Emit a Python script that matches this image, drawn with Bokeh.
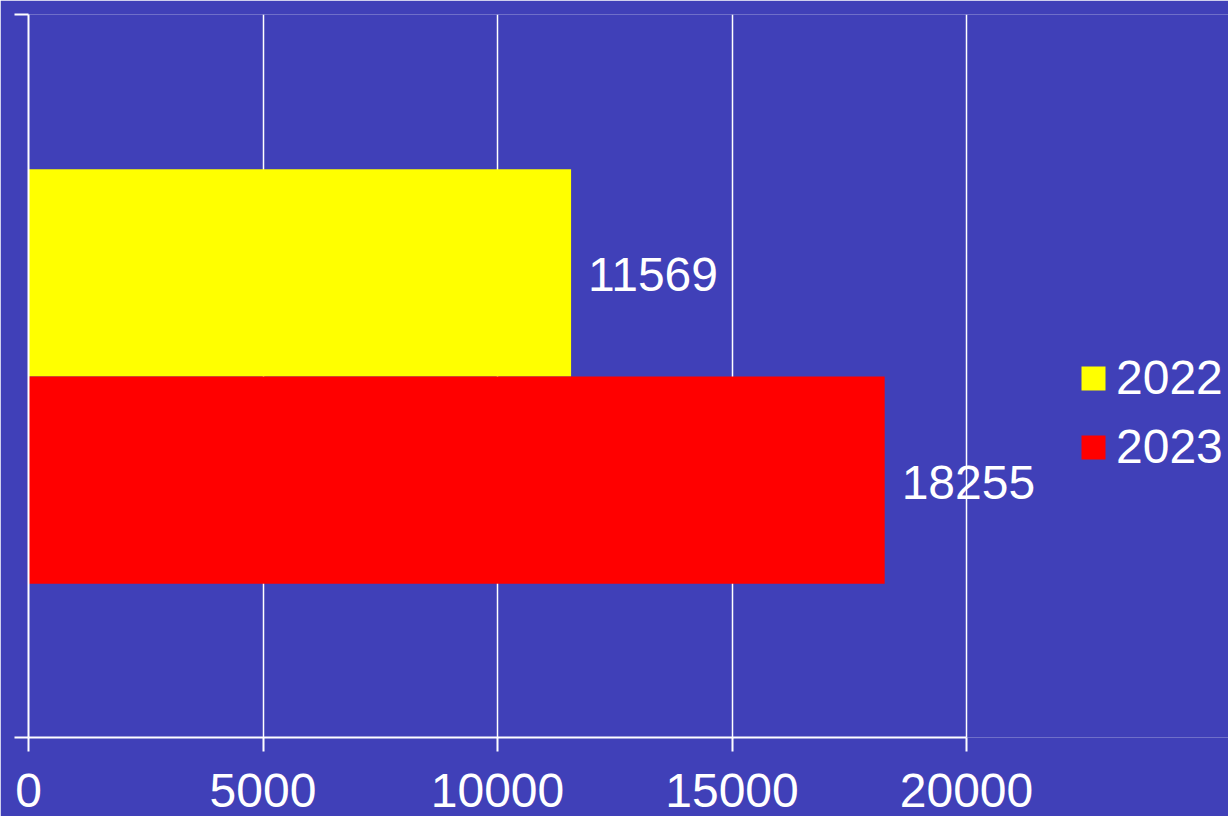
from bokeh.plotting import figure
from bokeh.models import Range1d, FixedTicker, ColumnDataSource, Legend, LegendItem, LabelSet
from bokeh.core.properties import value
from bokeh.embed import file_html
from bokeh.resources import INLINE

# data
series = ["2022", "2023"]
values = [11569, 18255]
colors = ["#FFFF00", "#FF0000"]
x_ticks = [0, 5000, 10000, 15000, 20000]

FONT = "Liberation Sans"
BG = "#4040b8"

# layout: frame 28..1228 px wide, axis 0..20000 spans 938 px
x_end = 20000 * 1200 / 938
bar_h = 0.2865
ys = [0.4993 + bar_h / 2, 0.4993 - bar_h / 2]

p = figure(width=1228, height=816, output_backend="svg", toolbar_location=None,
           x_range=Range1d(0, x_end), y_range=Range1d(0, 1),
           min_border_left=28, min_border_right=0, min_border_top=14, min_border_bottom=79)
p.background_fill_color = BG
p.border_fill_color = BG
p.outline_line_color = None

src = ColumnDataSource(dict(y=ys, right=values, color=colors, label=series,
                            text=[str(v) for v in values]))
r = p.hbar(y="y", right="right", left=0, height=bar_h, color="color", line_color=None, source=src)

labels = LabelSet(x="right", y="y", text="text", source=src, x_offset=17, y_offset=-2,
                  text_align="left", text_baseline="middle", text_color="white",
                  text_font=value(FONT), text_font_size="48px")
p.add_layout(labels)

# axes
p.xaxis.ticker = FixedTicker(ticks=x_ticks)
p.xaxis.bounds = (0, 20000)
p.xaxis.minor_tick_line_color = None
p.xaxis.major_tick_in = 0
p.xaxis.major_tick_out = 14
p.xaxis.axis_line_color = "white"
p.xaxis.axis_line_width = 2
p.xaxis.major_tick_line_color = "white"
p.xaxis.major_tick_line_width = 2
p.xaxis.major_label_text_color = "white"
p.xaxis.major_label_text_font = FONT
p.xaxis.major_label_text_font_size = "48px"
p.xaxis.major_label_standoff = 22

p.yaxis.ticker = FixedTicker(ticks=[0, 1])
p.yaxis.minor_tick_line_color = None
p.yaxis.major_tick_in = 0
p.yaxis.major_tick_out = 14
p.yaxis.axis_line_color = "white"
p.yaxis.axis_line_width = 2
p.yaxis.major_tick_line_color = "white"
p.yaxis.major_tick_line_width = 2
p.yaxis.major_label_text_font_size = "1px"
p.yaxis.major_label_text_alpha = 0
p.yaxis.major_label_standoff = 0

p.xgrid.ticker = FixedTicker(ticks=x_ticks)
p.xgrid.bounds = (0, 20000)
p.xgrid.grid_line_color = "white"
p.xgrid.grid_line_width = 1.5
p.ygrid.grid_line_color = None

legend = Legend(items=[LegendItem(label=series[i], renderers=[r], index=i) for i in range(2)],
                location=(1050, 263), orientation="vertical",
                label_text_color="white", label_text_font=FONT, label_text_font_size="48px",
                glyph_width=30, glyph_height=30, label_standoff=8, spacing=14, label_height=55,
                padding=0, margin=0, border_line_color=None, background_fill_alpha=0)
p.add_layout(legend, "center")

open("out.html", "w").write(file_html(p, INLINE))
